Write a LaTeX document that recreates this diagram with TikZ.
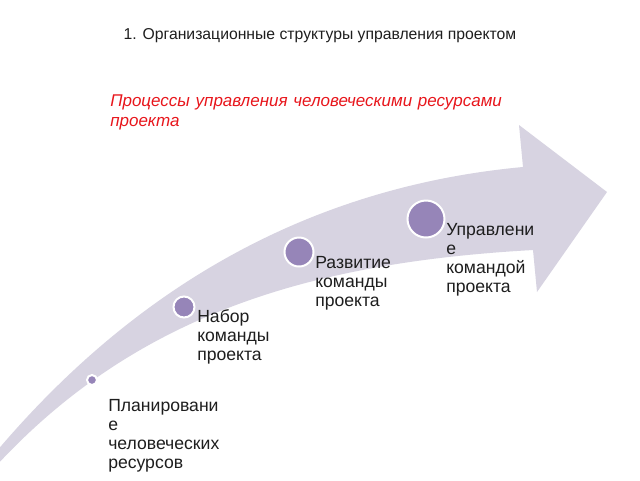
\documentclass[tikz,border=0pt]{standalone}
\usepackage{fontspec}
\setmainfont{Liberation Sans}
\begin{document}
\begin{tikzpicture}[x=0.75pt,y=-0.75pt,
  dot/.style={circle,fill=dotcol,draw=white,line width=1.5pt,inner sep=0pt},
  lbl/.style={anchor=base west,align=left,text width=130pt,text=textcol,font=\fontsize{13.2}{14.25}\selectfont,inner sep=0pt},
]
\definecolor{bandcol}{RGB}{215,211,225}
\definecolor{dotcol}{RGB}{150,133,184}
\definecolor{textcol}{RGB}{30,30,30}
\definecolor{redcol}{RGB}{232,22,28}
\useasboundingbox (0,0) rectangle (640,480);
\fill[white] (0,0) rectangle (640,480);
% arrow
\fill[bandcol] (-4,452) .. controls (150,270) and (330,185) .. (523,167)
  -- (519,125) -- (607,192) -- (537,292) -- (533,250)
  .. controls (320,262) and (140,310) .. (-4,466) -- cycle;
% title
\node[anchor=base,text=textcol,font=\fontsize{11.8}{13}\selectfont,inner sep=0pt] (title) at (320,39) {1. Организационные структуры управления проектом};
\node[anchor=base west,align=left,text width=400pt,text=redcol,font=\fontsize{12.75}{15.4}\selectfont\itshape,inner sep=0pt] (sub) at (110,106) {Процессы управления человеческими ресурсами\\проекта};
% dots
\node[dot,minimum size=10pt*0.75] (d1) at (92,380) {};
\node[dot,minimum size=21pt*0.75] (d2) at (184,307) {};
\node[dot,minimum size=29pt*0.75] (d3) at (299,252) {};
\node[dot,minimum size=37pt*0.75] (d4) at (426,219) {};
% labels
\node[lbl] (l1) at (108,411) {Планировани\\е\\человеческих\\ресурсов};
\node[lbl] (l2) at (197,322) {Набор\\команды\\проекта};
\node[lbl] (l3) at (315,268) {Развитие\\команды\\проекта};
\node[lbl] (l4) at (446,235) {Управлени\\е\\командой\\проекта};
\end{tikzpicture}
\end{document}
